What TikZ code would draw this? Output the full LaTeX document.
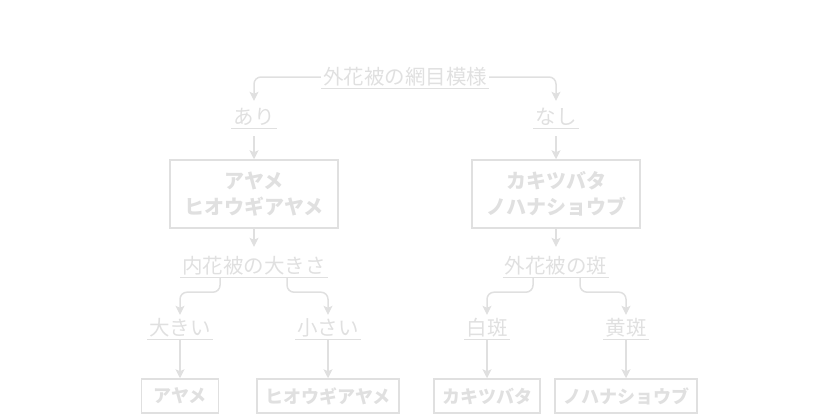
\documentclass[tikz,border=0pt]{standalone}
\usepackage{fontspec}
\newfontfamily\jpfont{Noto Sans CJK JP}
\usetikzlibrary{arrows.meta}
\definecolor{ink}{RGB}{224,224,224}
\begin{document}
\begin{tikzpicture}[x=1pt,y=-1pt,
  lbl/.style={font=\jpfont\fontsize{20.5}{22}\selectfont, text=ink, inner xsep=2pt, inner ysep=0pt, text height=18pt, text depth=4pt},
  bigbox/.style={draw=ink, line width=1.5pt, text=ink, font=\jpfont\bfseries\fontsize{20}{26}\selectfont, align=center, minimum width=168pt, minimum height=68pt, inner sep=0pt},
  leaf/.style={draw=ink, line width=1.5pt, text=ink, font=\jpfont\bfseries\fontsize{18}{20}\selectfont, minimum width=77pt, minimum height=34pt, inner xsep=8pt, inner ysep=0pt},
  arr/.style={draw=ink, line width=1.5pt, -{Stealth[length=9pt,width=9pt,inset=2pt]}, rounded corners=7pt},
  uline/.style={draw=ink, line width=1.2pt}
]
\useasboundingbox (0,0) rectangle (840,420);

\node[lbl] (top) at (405,77) {外花被の網目模様};
\node[lbl] (ari) at (254,117) {あり};
\node[lbl] (nashi) at (556,117) {なし};
\node[bigbox] (lbox) at (254,194) {アヤメ\\ヒオウギアヤメ};
\node[bigbox] (rbox) at (556,194) {カキツバタ\\ノハナショウブ};
\node[lbl] (naika) at (254,266) {内花被の大きさ};
\node[lbl] (madara) at (556,266) {外花被の斑};
\node[lbl] (ookii) at (180,328) {大きい};
\node[lbl] (chiisai) at (328,328) {小さい};
\node[lbl] (haku) at (487,328) {白斑};
\node[lbl] (ou) at (626,328) {黄斑};
\node[leaf] (ayame) at (180,396) {アヤメ};
\node[leaf] (hiougi) at (328,396) {ヒオウギアヤメ};
\node[leaf] (kaki) at (487,396) {カキツバタ};
\node[leaf] (nohana) at (626,396) {ノハナショウブ};

\foreach \n in {top,ari,nashi,naika,madara,ookii,chiisai,haku,ou}
  \draw[uline] (\n.south west) -- (\n.south east);

\draw[arr, shorten >=5pt] (top.west) -| (ari.north);
\draw[arr, shorten >=5pt] (top.east) -| (nashi.north);
\draw[arr, shorten <=8pt] (ari.south) -- (lbox.north);
\draw[arr, shorten <=8pt] (nashi.south) -- (rbox.north);
\draw[arr, shorten >=8pt] (lbox.south) -- (naika.north);
\draw[arr, shorten >=8pt] (rbox.south) -- (madara.north);

\draw[arr, shorten >=2pt] ([xshift=-34pt]naika.south) -- ++(0,15) -| (ookii.north);
\draw[arr, shorten >=2pt] ([xshift=33pt]naika.south) -- ++(0,15) -| (chiisai.north);
\draw[arr, shorten >=2pt] ([xshift=-23pt]madara.south) -- ++(0,15) -| (haku.north);
\draw[arr, shorten >=2pt] ([xshift=24pt]madara.south) -- ++(0,15) -| (ou.north);

\draw[arr] (ookii.south) -- (ayame.north);
\draw[arr] (chiisai.south) -- (hiougi.north);
\draw[arr] (haku.south) -- (kaki.north);
\draw[arr] (ou.south) -- (nohana.north);
\end{tikzpicture}
\end{document}
